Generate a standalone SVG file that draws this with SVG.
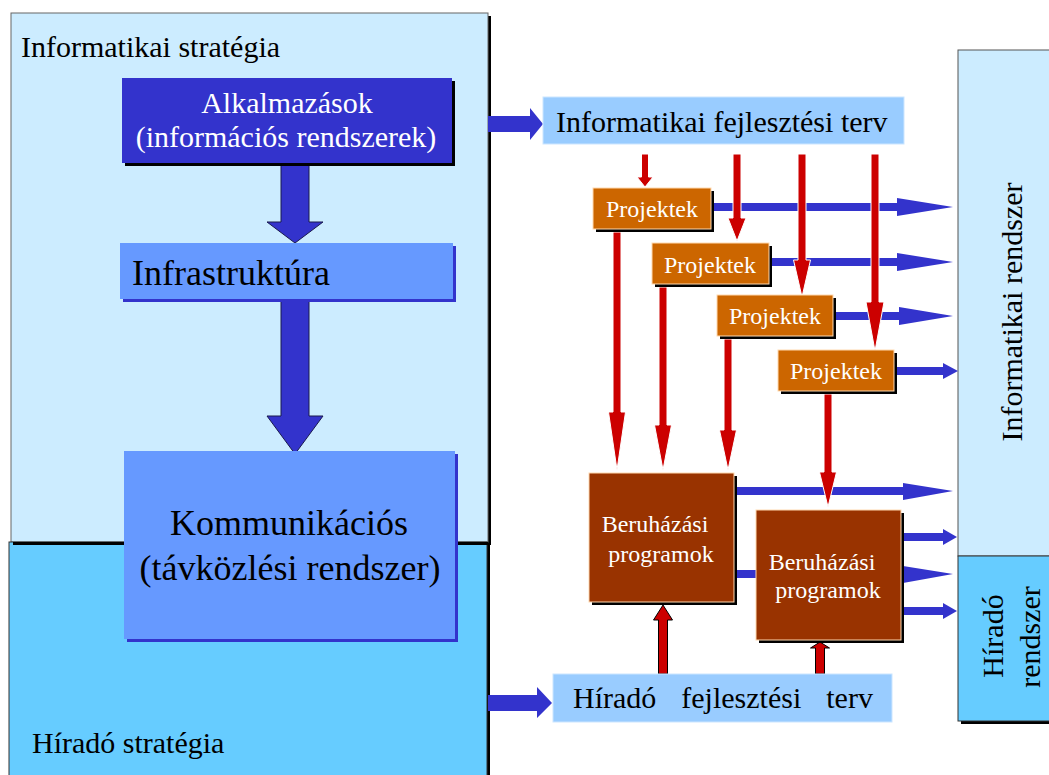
<svg xmlns="http://www.w3.org/2000/svg" width="1049" height="775" viewBox="0 0 1049 775">
  <style>
    text { font-family: "Liberation Serif", "Times New Roman", serif; }
    .t30 { font-size: 30px; fill: #000; }
    .t36 { font-size: 36px; fill: #000; }
    .w30 { font-size: 30px; fill: #fff; }
    .w24 { font-size: 24px; fill: #fff; }
    .mid { text-anchor: middle; }
    .shadowK { fill: #000; }
    .shadowB { fill: #3333CC; }
    .proj { fill: #CC6600; stroke: #FFD9B0; stroke-width: 1; }
    .invest { fill: #993300; stroke: #FFD9B0; stroke-width: 1; }
    .plan { fill: #99CCFF; stroke: #CCE6FF; stroke-width: 1; }
    .bigArrow { fill: #3333CC; stroke: #1a1a4d; stroke-width: 1; }
    .blueArrow { fill: #3333CC; }
    .redArrow { fill: #CC0000; stroke: #ffffff; stroke-width: 1; }
    .redArrowDark { fill: #CC0000; stroke: #000; stroke-width: 1; }
  </style>

  <rect width="1049" height="775" fill="#fff"/>

  <!-- Left panels: IT strategy and telecom strategy -->
  <g id="informatikai-strategia">
    <rect x="14" y="16" width="477" height="529" class="shadowK"/>
    <rect x="11" y="13" width="477" height="529" fill="#CCECFF" stroke="#666" stroke-width="1"/>
    <text x="21" y="57" class="t30">Informatikai stratégia</text>
  </g>
  <g id="hirado-strategia">
    <rect x="12" y="545" width="478" height="240" class="shadowK"/>
    <rect x="9" y="542" width="478" height="240" fill="#66CCFF" stroke="#333" stroke-width="1"/>
    <rect x="13" y="542" width="475" height="3" fill="#000"/>
    <text x="32" y="753" class="t30">Híradó stratégia</text>
  </g>

  <!-- Right panels: resulting systems -->
  <g id="informatikai-rendszer">
    <rect x="958" y="50" width="100" height="506" fill="#CCECFF" stroke="#555" stroke-width="1"/>
    <text class="t30 mid" transform="translate(1022,312) rotate(-90)">Informatikai rendszer</text>
  </g>
  <g id="hirado-rendszer">
    <rect x="961" y="559" width="100" height="165" class="shadowK"/>
    <rect x="958" y="556" width="100" height="165" fill="#66CCFF" stroke="#333" stroke-width="1"/>
    <text class="t30 mid" transform="translate(1003,636) rotate(-90)">Híradó</text>
    <text class="t30 mid" transform="translate(1040,637) rotate(-90)">rendszer</text>
  </g>

  <!-- Connectors -->
  <g id="connectors">
    <!-- strategy flow inside the IT panel -->
    <polygon class="bigArrow" points="281,163 309,163 309,222 323,222 295,243 267,222 281,222"/>
    <polygon class="bigArrow" points="281,299 309,299 309,416 323,416 295,454 267,416 281,416"/>
    <!-- strategies feeding the development plans -->
    <polygon class="blueArrow" points="488,116 530,116 530,108 543,124 530,140 530,132 488,132"/>
    <polygon class="blueArrow" points="488,695 537,695 537,687 552,703 537,718 537,711 488,711"/>

    <!-- project outputs towards the IT system -->
    <polygon class="blueArrow" points="712,203 897,203 897,198 953,207 897,216 897,211 712,211"/>
    <polygon class="blueArrow" points="770,258 897,258 897,253 953,262 897,271 897,266 770,266"/>
    <polygon class="blueArrow" points="834,312 899,312 899,307 953,316 899,325 899,320 834,320"/>
    <polygon class="blueArrow" points="895,367 943,367 943,363 958,371 943,379 943,375 895,375"/>

    <!-- investment programme outputs -->
    <polygon class="blueArrow" points="735,487 903,487 903,483 953,491 903,500 903,495 735,495"/>
    <polygon class="blueArrow" points="735,570 903,570 903,566 953,574 903,583 903,578 735,578"/>
    <polygon class="blueArrow" points="902,533 943,533 943,529 957,537 943,545 943,541 902,541"/>
    <polygon class="blueArrow" points="902,607 943,607 943,603 957,611 943,619 943,615 902,615"/>

    <!-- IT development plan down to the projects -->
    <polygon class="redArrow" points="641.5,154 648.5,154 648.5,177 653,177 645,187 637,177 641.5,177"/>
    <polygon class="redArrow" points="733,154 741,154 741,218 746,218 737,241 728,218 733,218"/>
    <polygon class="redArrow" points="798,154 806,154 806,260 810.5,260 802,297 793.5,260 798,260"/>
    <polygon class="redArrow" points="871,154 879,154 879,302 884,302 875,351 866,302 871,302"/>

    <!-- projects down to the investment programmes -->
    <polygon class="redArrow" points="613,232 621,232 621,412 625.5,412 617,470 608.5,412 613,412"/>
    <polygon class="redArrow" points="659,287 667,287 667,425 671.5,425 663,470 654.5,425 659,425"/>
    <polygon class="redArrow" points="724,339 732,339 732,430 736.5,430 728,470 719.5,430 724,430"/>
    <polygon class="redArrow" points="824,394 832,394 832,472 836.5,472 828,507 819.5,472 824,472"/>

    <!-- telecom development plan up to the investment programmes -->
    <polygon class="redArrowDark" points="658.5,674 667.5,674 667.5,620 672.5,620 663,605 653.5,620 658.5,620"/>
    <polygon class="redArrowDark" points="815.5,674 824.5,674 824.5,648 829.5,648 820,642 810.5,648 815.5,648"/>
  </g>

  <!-- Strategy building blocks -->
  <g id="alkalmazasok">
    <rect x="125" y="81" width="330" height="85" class="shadowK"/>
    <rect x="122" y="78" width="330" height="85" fill="#3333CC"/>
    <text x="287" y="113" class="w30 mid">Alkalmazások</text>
    <text x="286" y="147" class="w30 mid">(információs rendszerek)</text>
  </g>
  <g id="infrastruktura">
    <rect x="123" y="246" width="333" height="56" class="shadowB"/>
    <rect x="120" y="243" width="333" height="56" fill="#6699FF"/>
    <text x="132" y="285" class="t36">Infrastruktúra</text>
  </g>
  <g id="kommunikacios">
    <rect x="127" y="454" width="331" height="188" class="shadowB"/>
    <rect x="124" y="451" width="331" height="188" fill="#6699FF"/>
    <text x="289" y="535" class="t36 mid">Kommunikációs</text>
    <text x="290" y="580" class="t36 mid">(távközlési rendszer)</text>
  </g>

  <!-- Development plans -->
  <g id="informatikai-fejlesztesi-terv">
    <rect x="543" y="97" width="361" height="47" class="plan"/>
    <text x="556" y="132" class="t30">Informatikai fejlesztési terv</text>
  </g>
  <g id="hirado-fejlesztesi-terv">
    <rect x="553" y="674" width="339" height="48" class="plan"/>
    <text x="573" y="708" class="t30" word-spacing="17.5">Híradó fejlesztési terv</text>
  </g>

  <!-- Projects -->
  <g id="projekt-1">
    <rect x="596" y="191" width="118" height="41" class="shadowK"/>
    <rect x="593" y="188" width="118" height="41" class="proj"/>
    <text x="652" y="217" class="w24 mid">Projektek</text>
  </g>
  <g id="projekt-2">
    <rect x="655" y="246" width="117" height="41" class="shadowK"/>
    <rect x="652" y="243" width="117" height="41" class="proj"/>
    <text x="710" y="273" class="w24 mid">Projektek</text>
  </g>
  <g id="projekt-3">
    <rect x="720" y="298" width="116" height="41" class="shadowK"/>
    <rect x="717" y="295" width="116" height="41" class="proj"/>
    <text x="775" y="324" class="w24 mid">Projektek</text>
  </g>
  <g id="projekt-4">
    <rect x="781" y="353" width="116" height="41" class="shadowK"/>
    <rect x="778" y="350" width="116" height="41" class="proj"/>
    <text x="836" y="379" class="w24 mid">Projektek</text>
  </g>

  <!-- Investment programmes -->
  <g id="beruhazasi-programok-1">
    <rect x="592" y="476" width="145" height="129" class="shadowK"/>
    <rect x="589" y="473" width="145" height="129" class="invest"/>
    <text x="655" y="532" class="w24 mid">Beruházási</text>
    <text x="661" y="562" class="w24 mid">programok</text>
  </g>
  <g id="beruhazasi-programok-2">
    <rect x="759" y="513" width="145" height="130" class="shadowK"/>
    <rect x="756" y="510" width="145" height="130" class="invest"/>
    <text x="822" y="570" class="w24 mid">Beruházási</text>
    <text x="828" y="598" class="w24 mid">programok</text>
  </g>
</svg>
